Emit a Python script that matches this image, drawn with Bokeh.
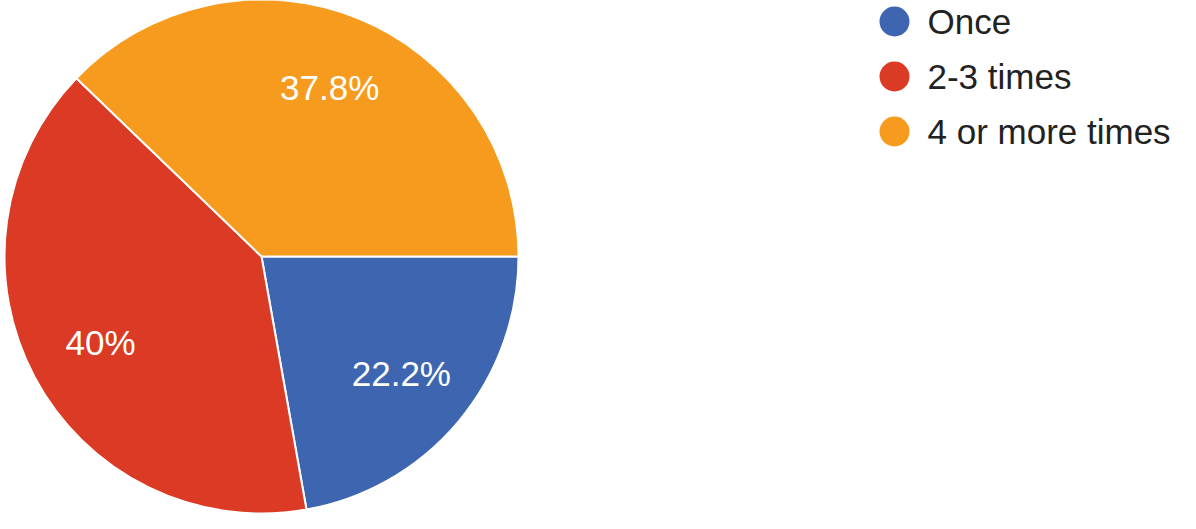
import numpy as np
from bokeh.plotting import figure
from bokeh.models import Range1d, ColumnDataSource
from bokeh.core.properties import value
from bokeh.embed import file_html
from bokeh.resources import INLINE

# ---- data ----
categories = ["Once", "2-3 times", "4 or more times"]
percentages = [22.2, 40.0, 37.8]
labels = ["22.2%", "40%", "37.8%"]
colors = ["#3e66b0", "#db3a24", "#f79b1e"]

# ---- layout (pixels == data units) ----
W, H = 1180, 513
cx, cy, r = 261, 257, 257
label_frac = 0.71

p = figure(width=W, height=H, x_range=Range1d(0, W), y_range=Range1d(0, H),
           output_backend="svg", toolbar_location=None, min_border=0,
           x_axis_type=None, y_axis_type=None)
p.grid.visible = False
p.outline_line_color = None
p.background_fill_color = "white"
p.border_fill_color = "white"

frac = np.array(percentages) / sum(percentages)
cum = np.cumsum(frac)
start = -2 * np.pi * (cum - frac)
end = -2 * np.pi * cum
mid = (start + end) / 2

src = ColumnDataSource(dict(start=start, end=end, color=colors,
                            lx=cx + label_frac * r * np.cos(mid),
                            ly=cy + label_frac * r * np.sin(mid),
                            label=labels))

p.wedge(x=cx, y=cy, radius=r, start_angle="start", end_angle="end",
        direction="clock", fill_color="color", line_color="white",
        line_width=2, source=src)

p.text(x="lx", y="ly", text="label", source=src, text_color="white",
       text_font=value("Liberation Sans"), text_font_size="35px",
       text_align="center", text_baseline="middle")

# ---- legend ----
leg_y = [H - 21 - 55 * i for i in range(len(categories))]
p.scatter(x=[894] * len(categories), y=leg_y, size=30, marker="circle",
          fill_color=colors, line_color=None)
p.text(x=[927] * len(categories), y=leg_y, text=categories,
       text_color="#222222", text_font=value("Liberation Sans"),
       text_font_size="35px", text_align="left", text_baseline="middle")

open("out.html", "w").write(file_html(p, INLINE))
